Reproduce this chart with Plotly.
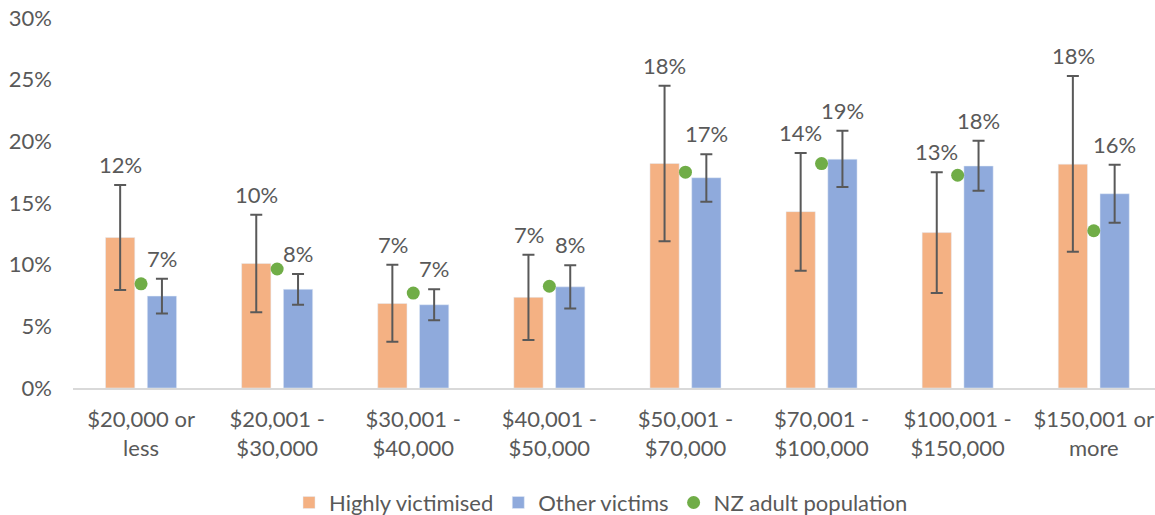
import plotly.graph_objects as go

categories = ["$20,000 or<br>less", "$20,001 -<br>$30,000", "$30,001 -<br>$40,000",
              "$40,001 -<br>$50,000", "$50,001 -<br>$70,000", "$70,001 -<br>$100,000",
              "$100,001 -<br>$150,000", "$150,001 or<br>more"]

highly = [12.2, 10.1, 6.85, 7.35, 18.2, 14.3, 12.6, 18.15]
highly_hi = [16.45, 14.05, 10.0, 10.8, 24.5, 19.05, 17.5, 25.3]
highly_lo = [7.95, 6.15, 3.75, 3.9, 11.9, 9.5, 7.7, 11.05]

other = [7.45, 8.0, 6.75, 8.2, 17.05, 18.55, 18.0, 15.75]
other_hi = [8.85, 9.25, 8.0, 9.95, 18.95, 20.85, 20.05, 18.1]
other_lo = [6.05, 6.75, 5.5, 6.45, 15.1, 16.3, 16.0, 13.4]

nz_pop = [8.45, 9.65, 7.7, 8.25, 17.5, 18.2, 17.25, 12.75]

FONT = "Lato"
FS = 22
GREY = "#595959"
ORANGE = "#f4b183"
BLUE = "#8faadc"
GREEN = "#70ad47"

fig = go.Figure()
fig.add_trace(go.Bar(
    name="Highly victimised", x=categories, y=highly, marker_color=ORANGE,
    error_y=dict(type="data", symmetric=False,
                 array=[h - v for h, v in zip(highly_hi, highly)],
                 arrayminus=[v - l for v, l in zip(highly, highly_lo)],
                 color=GREY, thickness=2, width=6),
))
fig.add_trace(go.Bar(
    name="Other victims", x=categories, y=other, marker_color=BLUE,
    error_y=dict(type="data", symmetric=False,
                 array=[h - v for h, v in zip(other_hi, other)],
                 arrayminus=[v - l for v, l in zip(other, other_lo)],
                 color=GREY, thickness=2, width=6),
))
fig.add_trace(go.Scatter(
    name="NZ adult population", x=categories, y=nz_pop, mode="markers",
    marker=dict(color=GREEN, size=13),
))

SLOT = 20.75
for cat, v, top in zip(categories, highly, highly_hi):
    fig.add_annotation(x=cat, y=top, text=f"{round(v)}%", showarrow=False,
                       xshift=-SLOT, yshift=5, yanchor="bottom",
                       font=dict(family=FONT, size=FS, color=GREY))
for cat, v, top in zip(categories, other, other_hi):
    fig.add_annotation(x=cat, y=top, text=f"{round(v)}%", showarrow=False,
                       xshift=SLOT, yshift=5, yanchor="bottom",
                       font=dict(family=FONT, size=FS, color=GREY))

fig.update_layout(
    width=1155, height=515,
    margin=dict(l=73, r=0, t=18, b=127, autoexpand=False),
    paper_bgcolor="white", plot_bgcolor="white",
    barmode="group", bargap=0.386, bargroupgap=0.30,
    font=dict(family=FONT, size=FS, color=GREY),
    showlegend=True,
    legend=dict(orientation="h", x=0.488, xanchor="center", y=-0.31, yanchor="middle",
                font=dict(family=FONT, size=FS, color=GREY), itemwidth=30),
)
fig.update_xaxes(showgrid=False, showline=True, linecolor="#d9d9d9", linewidth=2,
                 ticks="", range=[-0.5, 7.45], automargin=False, ticklabelstandoff=11,
                 tickfont=dict(family=FONT, size=FS, color=GREY))
fig.update_yaxes(range=[0, 30], dtick=5, ticksuffix="%", showgrid=False, zeroline=False,
                 showline=False, ticks="", ticklabelstandoff=20, automargin=False,
                 tickfont=dict(family=FONT, size=FS, color=GREY))

fig.write_html("out.html", config={"displayModeBar": False},
               post_script="document.body.style.margin='0px';")
